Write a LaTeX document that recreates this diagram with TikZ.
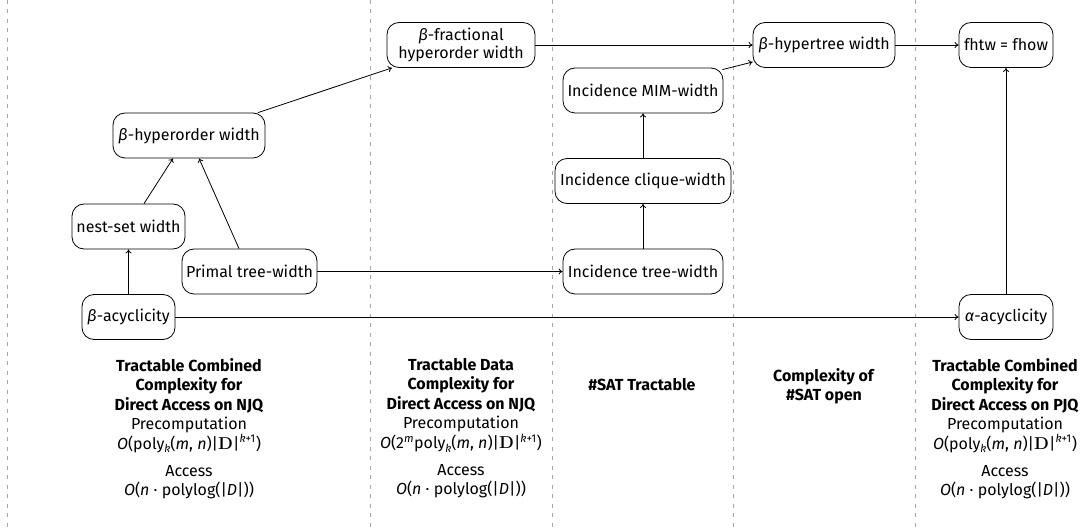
\documentclass[tikz,border=0pt]{standalone}
\usepackage[no-math]{fontspec}
\setmainfont{Fira Sans}
\usetikzlibrary{arrows.meta}
\newcommand\sbk{\raisebox{-0.45ex}{\fontsize{11}{11}\selectfont\itshape k}}
\newcommand\supk{\textsuperscript{\itshape k\upshape+1}}
\newcommand\bD{$\mathbf{D}$}
\newcommand\precomp{\textit{O}(poly\sbk(\textit{m}, \textit{n})|\bD|\supk)}
\newcommand\accessc{\textit{O}(\textit{n} · polylog(|\textit{D}|))}
\tikzset{
  box/.style={draw, line width=0.8pt, rounded corners=12pt, minimum height=45pt, inner sep=2pt, align=center, font=\fontsize{16}{18.5}\selectfont},
  conn/.style={line width=0.8pt, -{To[length=4pt,width=6pt]}},
  sep/.style={gray!70, line width=0.7pt, dash pattern=on 4pt off 5.5pt},
  lbl/.style={align=center, anchor=north, inner sep=0pt, font=\fontsize{16}{19.5}\selectfont}
}
\begin{document}
\begin{tikzpicture}[x=1pt,y=-1pt]
\useasboundingbox (0,0) rectangle (1089,529);
\foreach \xx in {7,370,552,733,915} \draw[sep] (\xx,0) -- (\xx,529);

\node[box, minimum width=152pt] (hyp) at (189,135.5) {\textit{β}-hyperorder width};
\node[box, minimum width=113pt] (nest) at (128.5,226.5) {nest-set width};
\node[box, minimum width=135pt] (primal) at (249.5,271.5) {Primal tree-width};
\node[box, minimum width=93pt] (bacyc) at (128.5,317) {\textit{β}-acyclicity};
\node[box, minimum width=148pt] (bfrac) at (461,45) {\textit{β}-fractional\\hyperorder width};
\node[box, minimum width=160pt] (mim) at (643,90.5) {Incidence MIM-width};
\node[box, minimum width=176pt] (clique) at (643,181) {Incidence clique-width};
\node[box, minimum width=160pt] (itw) at (643,271.5) {Incidence tree-width};
\node[box, minimum width=142pt] (bht) at (824,45) {\textit{β}-hypertree width};
\node[box, minimum width=94pt] (fhtw) at (1006,45) {fhtw = fhow};
\node[box, minimum width=94pt] (aacyc) at (1006,317) {\textit{α}-acyclicity};

\draw[conn] (bacyc) -- (nest);
\draw[conn] ([xshift=15.5pt]nest.north) -- ([xshift=-16pt]hyp.south);
\draw[conn] ([xshift=-10.5pt]primal.north) -- ([xshift=10pt]hyp.south);
\draw[conn] ([xshift=69pt]hyp.north) -- ([xshift=-69pt]bfrac.south);
\draw[conn] (primal) -- (itw);
\draw[conn] (bacyc) -- (aacyc);
\draw[conn] (itw) -- (clique);
\draw[conn] (clique) -- (mim);
\draw[conn] ([xshift=-1pt,yshift=-2pt]mim.north east) -- ([yshift=-17pt]bht.west);
\draw[conn] (bfrac) -- (bht);
\draw[conn] (bht) -- (fhtw);
\draw[conn] (aacyc) -- (fhtw);

\node[lbl] (t1) at (189,358) {\textbf{Tractable Combined}\\\textbf{Complexity for}\\\textbf{Direct Access on NJQ}\\Precomputation\\\precomp\\[7.5pt]Access\\\accessc};
\node[lbl] (t2) at (461,358) {\textbf{Tractable Data}\\\textbf{Complexity for}\\\textbf{Direct Access on NJQ}\\Precomputation\\\textit{O}(2\textsuperscript{\itshape m}poly\sbk(\textit{m}, \textit{n})|\bD|\supk)\\[7.5pt]Access\\\accessc};
\node[lbl] (t3) at (642,378) {\textbf{\#SAT Tractable}};
\node[lbl] (t4) at (824,368) {\textbf{Complexity of}\\\textbf{\#SAT open}};
\node[lbl] (t5) at (1005,358) {\textbf{Tractable Combined}\\\textbf{Complexity for}\\\textbf{Direct Access on PJQ}\\Precomputation\\\precomp\\[7.5pt]Access\\\accessc};
\end{tikzpicture}
\end{document}
